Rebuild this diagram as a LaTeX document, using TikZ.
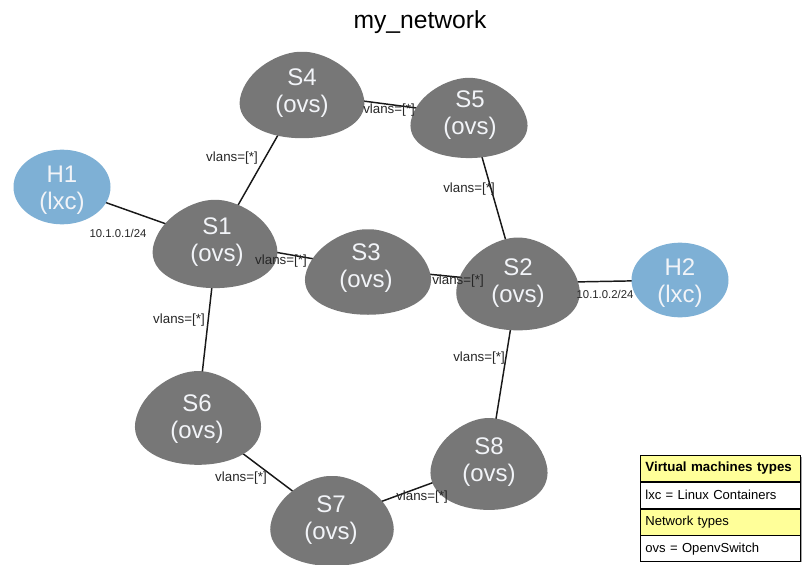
\documentclass[tikz,border=0pt]{standalone}
\usepackage{fontspec}
\setmainfont{Liberation Sans}
\usetikzlibrary{shapes.geometric}
\definecolor{swgray}{HTML}{777777}
\definecolor{hostblue}{HTML}{7EB0D5}
\definecolor{legyellow}{HTML}{FFFF99}
\definecolor{nodetext}{HTML}{F2F4F8}
\pgfdeclarelayer{background}
\pgfdeclarelayer{blobs}
\pgfsetlayers{background,blobs,main}
\tikzset{
  blob/.pic={\fill[swgray] (0,-45) .. controls (20,-46) and (58,-28) .. (64,4)
      .. controls (68,30) and (36,45) .. (0,45)
      .. controls (-36,45) and (-68,30) .. (-64,4)
      .. controls (-58,-28) and (-20,-46) .. (0,-45) -- cycle;},
  sw/.style={align=center, text=nodetext, font=\fontsize{18}{20.5}\selectfont, inner sep=0pt},
  host/.style={ellipse, fill=hostblue, minimum width=72.75pt, minimum height=56pt, inner sep=0pt},
  link/.style={line width=1.1pt, draw=black!90},
  lab/.style={font=\fontsize{10}{12}\selectfont, text=black!85, inner sep=0pt},
  iplab/.style={font=\fontsize{8.5}{10}\selectfont, text=black!85, inner sep=0pt},
  legrow/.style={draw=black, line width=0.6pt, minimum width=120pt, minimum height=19.5pt,
      anchor=north west, text width=112.5pt, align=left, inner xsep=3.75pt, inner ysep=0pt,
      font=\fontsize{9.8}{11}\selectfont}
}
\begin{document}
\begin{tikzpicture}[x=0.75pt,y=-0.75pt]
\useasboundingbox (0,0) rectangle (802,564);
% title
\node[font=\fontsize{18.5}{20}\selectfont, inner sep=0pt] (title) at (420,22) {my\_network};
% switches (text), blobs drawn below
\node[sw] (s4) at (302,93) {S4\\(ovs)};
\node[sw] (s5) at (470,115) {S5\\(ovs)};
\node[sw] (s1) at (217,242) {S1\\(ovs)};
\node[sw] (s3) at (366,268) {S3\\(ovs)};
\node[sw] (s2) at (518,283) {S2\\(ovs)};
\node[sw] (s6) at (197,419) {S6\\(ovs)};
\node[sw] (s8) at (489,462) {S8\\(ovs)};
\node[sw] (s7) at (331,520) {S7\\(ovs)};
% hosts
\node[host, label={[sw, yshift=-2.5pt]center:H1\\(lxc)}] (h1) at (62,187) {};
\node[host, label={[sw, yshift=-2.5pt]center:H2\\(lxc)}] (h2) at (680,280) {};
% blobs
\begin{pgfonlayer}{blobs}
\pic[xscale=0.97,yscale=0.96] at (302,95) {blob};
\pic[xscale=0.91,yscale=0.89] at (469,118) {blob};
\pic[xscale=0.97,yscale=0.98] at (215,244) {blob};
\pic[xscale=0.98,yscale=0.95] at (368,272) {blob};
\pic[xscale=0.96,yscale=1.03] at (518,284) {blob};
\pic[xscale=0.98,yscale=1.04] at (198,418) {blob};
\pic[xscale=0.91,yscale=1.02] at (489,464) {blob};
\pic[xscale=0.96,yscale=1.0] at (332,521) {blob};
\end{pgfonlayer}
% links
\begin{pgfonlayer}{background}
\draw[link] (h1.center) -- (s1.center);
\draw[link] (s1.center) -- (s4.center);
\draw[link] (s4.center) -- (s5.center);
\draw[link] (s5.center) -- (s2.center);
\draw[link] (s1.center) -- (s3.center);
\draw[link] (s3.center) -- (s2.center);
\draw[link] (s2.center) -- (h2.center);
\draw[link] (s1.center) -- (s6.center);
\draw[link] (s2.center) -- (s8.center);
\draw[link] (s6.center) -- (s7.center);
\draw[link] (s7.center) -- (s8.center);
\end{pgfonlayer}
% link labels
\node[lab] (l14) at (232,158) {vlans=[*]};
\node[lab] (l45) at (389,110) {vlans=[*]};
\node[lab] (l52) at (469,189) {vlans=[*]};
\node[iplab] (ip1) at (118,233) {10.1.0.1/24};
\node[lab] (l13) at (281,261) {vlans=[*]};
\node[lab] (l32) at (458,281) {vlans=[*]};
\node[iplab] (ip2) at (605,294) {10.1.0.2/24};
\node[lab] (l16) at (179,320) {vlans=[*]};
\node[lab] (l28) at (479,358) {vlans=[*]};
\node[lab] (l67) at (241,478) {vlans=[*]};
\node[lab] (l78) at (422,497) {vlans=[*]};
% legend
\fill[black!35] (642,457) rectangle (802,562);
\node[legrow, fill=legyellow, font=\fontsize{10}{11}\selectfont\bfseries] (lg1) at (640,455) {Virtual machines types};
\node[legrow, fill=white] (lg2) at (lg1.south west) {lxc = Linux Containers};
\node[legrow, fill=legyellow] (lg3) at (lg2.south west) {Network types};
\node[legrow, fill=white] (lg4) at (lg3.south west) {ovs = OpenvSwitch};
\end{tikzpicture}
\end{document}
